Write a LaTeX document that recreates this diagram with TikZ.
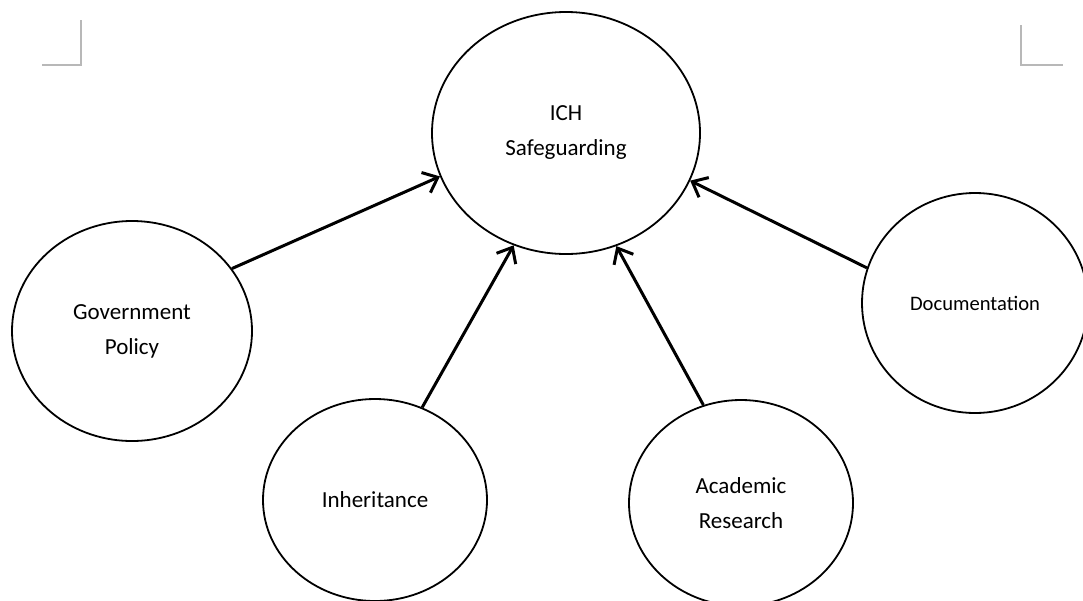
\documentclass[tikz,border=0pt]{standalone}
\usepackage{fontspec}
\setmainfont{Carlito}
\usetikzlibrary{shapes.geometric,arrows.meta}
\begin{document}
\begin{tikzpicture}[x=1pt,y=-1pt,
  bubble/.style={draw=black,line width=1.8pt,ellipse,inner sep=0pt,
    align=center,font=\fontsize{23}{35}\selectfont,text=black},
  arr/.style={line width=3pt,-{Straight Barb[length=13pt,width=22pt,line width=3pt]}},
  cropmark/.style={draw=black!28,line width=1.3pt}]
\useasboundingbox (0,0) rectangle (1083,600);
\clip (0,0) rectangle (1083,600);
\fill[white] (0,0) rectangle (1083,600);

% page corner marks
\draw[cropmark] (81,20) -- (81,65) -- (42,65);
\draw[cropmark] (1021,25) -- (1021,65) -- (1063,65);

% concepts
\node[bubble,minimum width=268pt,minimum height=242pt] (ich) at (566,133) {ICH\\Safeguarding};
\node[bubble,minimum width=240pt,minimum height=220pt] (gov) at (132,331) {Government\\Policy};
\node[bubble,minimum width=224pt,minimum height=202pt] (inh) at (375,500) {Inheritance};
\node[bubble,minimum width=224pt,minimum height=206pt] (acad) at (741,503) {Academic\\Research};
\node[bubble,minimum width=226pt,minimum height=220pt,font=\fontsize{20.6}{30}\selectfont] (doc) at (975,303) {Documentation};

% influences
\draw[arr] (gov.32) -- (ich.199);
\draw[arr] (inh.63) -- (ich.245);
\draw[arr] (acad.111) -- (ich.294);
\draw[arr] (doc.162) -- (ich.339);
\end{tikzpicture}
\end{document}
